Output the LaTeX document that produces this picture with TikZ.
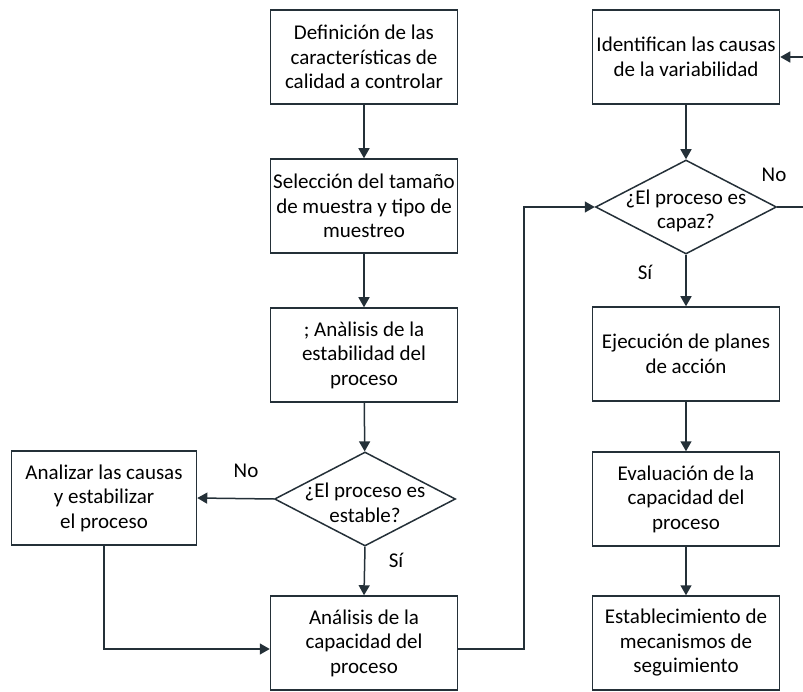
\documentclass[tikz,border=0pt]{standalone}
\usepackage{fontspec}
\setmainfont{Carlito}
\usetikzlibrary{shapes.geometric,arrows.meta}
\definecolor{linea}{HTML}{243038}
\tikzset{
  caja/.style={draw=linea,line width=1.5pt,minimum width=187pt,minimum height=94pt,align=center,inner sep=2pt},
  rombo/.style={draw=linea,line width=1.5pt,diamond,minimum width=181pt,minimum height=94pt,inner sep=0pt},
  flecha/.style={->,draw=linea,line width=1.5pt},
}
\begin{document}
\begin{tikzpicture}[x=1pt,y=-1pt,>={Triangle[length=10pt,width=11pt]},font=\fontsize{21}{24.5}\selectfont]
\useasboundingbox (0,0) rectangle (803,692);
% columna izquierda
\node[caja] (def) at (364,57) {Definición de las\\características de\\calidad a controlar};
\node[caja] (sel) at (364,206) {Selección del tamaño\\de muestra y tipo de\\muestreo};
\node[caja] (est) at (364,355) {; Anàlisis de la\\estabilidad del\\proceso};
\node[rombo] (d1) at (365,499) {};
\node[align=center] (d1t) at (365,503) {¿El proceso es\\estable?};
\node[caja,minimum width=185pt] (ana) at (104,498) {Analizar las causas\\y estabilizar\\el proceso};
\node[caja] (cap) at (364,643) {Análisis de la\\capacidad del\\proceso};
% columna derecha
\node[caja] (ide) at (686,57) {Identifican las causas\\de la variabilidad};
\node[rombo] (d2) at (686,207) {};
\node[align=center] (d2t) at (686,211) {¿El proceso es\\capaz?};
\node[caja] (eje) at (686,354) {Ejecución de planes\\de acción};
\node[caja] (eva) at (686,499) {Evaluación de la\\capacidad del\\proceso};
\node[caja] (seg) at (686,643) {Establecimiento de\\mecanismos de\\seguimiento};
\coordinate (vuelta) at (808,207);
\coordinate (subida) at (524,649);
% flechas
\draw[flecha] (def) -- (sel);
\draw[flecha] (sel) -- (est);
\draw[flecha] (est) -- (d1);
\draw[flecha] (d1.west) -- (ana.east);
\draw[flecha] (d1.south) -- (cap.north);
\draw[flecha] (ana.south) |- ([yshift=-6pt]cap.west);
\draw[flecha] ([yshift=-6pt]cap.east) -- (subida) |- (d2.west);
\draw[flecha] (ide) -- (d2.north);
\draw[flecha] (d2.south) -- (eje.north);
\draw[flecha] (eje) -- (eva);
\draw[flecha] (eva) -- (seg);
\draw[flecha] (d2.east) -- (vuelta) |- (ide.east);
\node (no1) at (246,471) {No};
\node (si1) at (396,560) {Sí};
\node (no2) at (774,175) {No};
\node (si2) at (645,272) {Sí};
\end{tikzpicture}
\end{document}
